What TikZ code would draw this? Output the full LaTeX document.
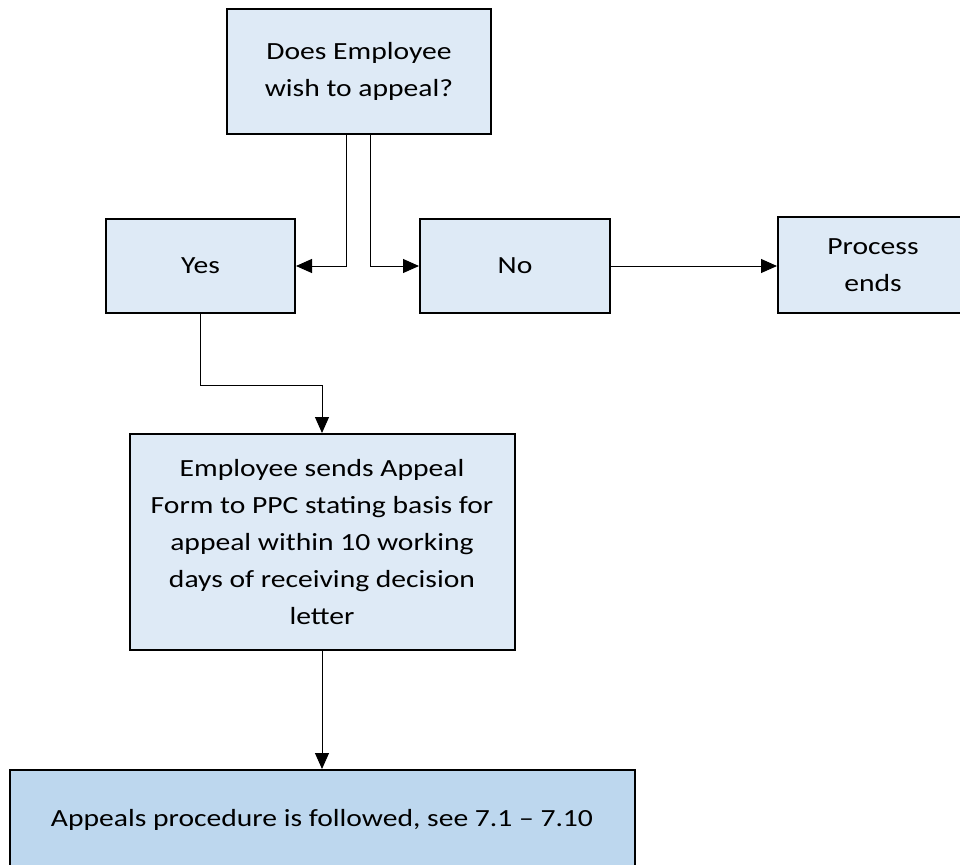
\documentclass[tikz,border=0pt]{standalone}
\usepackage{fontspec}
\setmainfont{Carlito}[FakeStretch=1.2]
\usetikzlibrary{arrows.meta}
\definecolor{boxblue}{HTML}{DEEAF6}
\definecolor{mainblue}{HTML}{BDD7EE}

\begin{document}
\begin{tikzpicture}[x=0.75pt,y=-0.75pt,
    box/.style={draw,line width=1.5pt,fill=boxblue,inner sep=0pt,align=center,
      font=\fontsize{18.5}{27.75}\selectfont},
    link/.style={line width=0.75pt,-{Triangle[length=12pt,width=10.5pt]}}]
  \useasboundingbox (0,0) rectangle (960,864);
  % question and answers
  \node[box,minimum width=198pt,minimum height=93.75pt] (ask) at (359,71.5) {Does Employee\\wish to appeal?};
  \node[box,minimum width=141.75pt,minimum height=70.5pt] (yes) at (200.5,266) {Yes};
  \node[box,minimum width=142.5pt,minimum height=70.5pt] (no) at (515,266) {No};
  \node[box,minimum width=142.5pt,minimum height=72pt] (ends) at (873,265) {Process\\ends};
  % appeal steps
  \node[box,minimum width=288.75pt,minimum height=162pt] (send) at (322,542)
    {Employee sends Appeal\\Form to PPC stating basis for\\appeal within 10 working\\days of receiving decision\\letter};
  \node[box,fill=mainblue,minimum width=468.75pt,minimum height=75pt] (follow) at (322,820)
    {Appeals procedure is followed, see 7.1 – 7.10};
  % connectors
  \draw[link] ([xshift=-9.75pt]ask.south) |- (yes.east);
  \draw[link] ([xshift=8.25pt]ask.south) |- (no.west);
  \draw[link] (no.east) -- (no.east -| ends.west);
  \draw[link] (yes.south) -- ++(0,71) -| (send.north);
  \draw[link] (send.south) -- (follow.north);
\end{tikzpicture}
\end{document}
